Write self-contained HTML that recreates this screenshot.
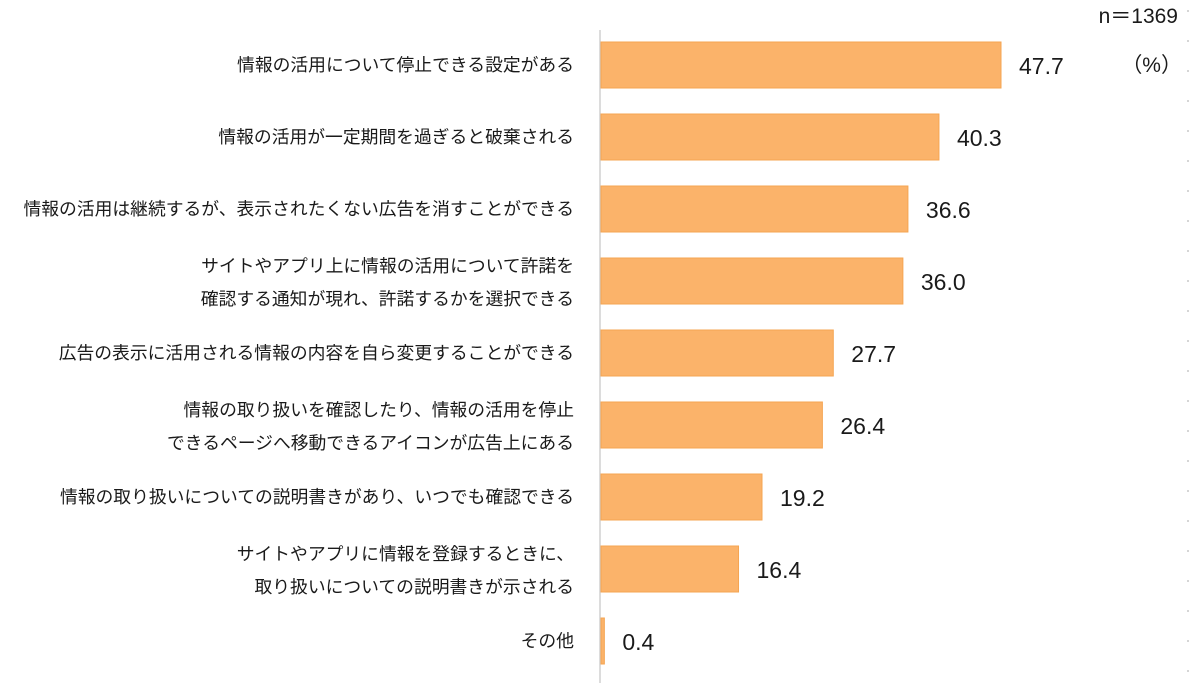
<!DOCTYPE html>
<html><head><meta charset="utf-8">
<style>
body{margin:0;width:1200px;height:683px;background:#fff;overflow:hidden;font-family:"Liberation Sans","Noto Sans CJK JP",sans-serif;}
svg{display:block}
</style></head>
<body>
<svg id="chart" width="1200" height="683" xmlns="http://www.w3.org/2000/svg"></svg>
<script>
const categories = [
  ["情報の活用について停止できる設定がある"],
  ["情報の活用が一定期間を過ぎると破棄される"],
  ["情報の活用は継続するが、表示されたくない広告を消すことができる"],
  ["サイトやアプリ上に情報の活用について許諾を","確認する通知が現れ、許諾するかを選択できる"],
  ["広告の表示に活用される情報の内容を自ら変更することができる"],
  ["情報の取り扱いを確認したり、情報の活用を停止","できるページへ移動できるアイコンが広告上にある"],
  ["情報の取り扱いについての説明書きがあり、いつでも確認できる"],
  ["サイトやアプリに情報を登録するときに、","取り扱いについての説明書きが示される"],
  ["その他"]
];
const values = [47.7, 40.3, 36.6, 36.0, 27.7, 26.4, 19.2, 16.4, 0.4];
const valueLabels = ["47.7","40.3","36.6","36.0","27.7","26.4","19.2","16.4","0.4"];

const NS = "http://www.w3.org/2000/svg";
const svg = document.getElementById("chart");
const x0 = 601, pxPerUnit = 400/47.7;
const xScale = v => x0 + v*pxPerUnit;
const yCenter = i => 65 + i*72;
const barH = 46;
function mk(tag, attrs, text){
  const e = document.createElementNS(NS, tag);
  for (const k in attrs) e.setAttribute(k, attrs[k]);
  if (text!==undefined) e.textContent = text;
  svg.appendChild(e); return e;
}
const dl = mk("line",{x1:1188,y1:10,x2:1188,y2:683,stroke:"#c8c8c8","stroke-width":1.5,"stroke-dasharray":"2 28"});


const ax = mk("line",{x1:x0-1,y1:30,x2:x0-1,y2:683,stroke:"#d0d0d0","stroke-width":1.5});



values.forEach((v,i)=>{
  const yc = yCenter(i);
  const r = mk("rect",{x:x0,y:yc-barH/2,width:Math.max(xScale(v)-x0,1.5),height:barH,fill:"#FBB36A",stroke:"#F5A552","stroke-width":1});
  
  
  const t = mk("text",{x:xScale(v)+18,y:yc+9,"font-size":23,fill:"#1a1a1a"},valueLabels[i]);
  
  
  const lines = categories[i];
  lines.forEach((ln,j)=>{
    const off = lines.length===1 ? 0 : (j===0?-15:18);
    const c = mk("text",{x:574,y:yc+6+off,"font-size":17.8,"text-anchor":"end",fill:"#1a1a1a"},ln);
    
    
  });
});
const n = mk("text",{x:1178,y:23,"font-size":21,"text-anchor":"end",fill:"#1a1a1a"},"n＝1369");


const u = mk("text",{x:1182,y:72,"font-size":21,"text-anchor":"end",fill:"#1a1a1a"},"（%）");


</script>
</body></html>
